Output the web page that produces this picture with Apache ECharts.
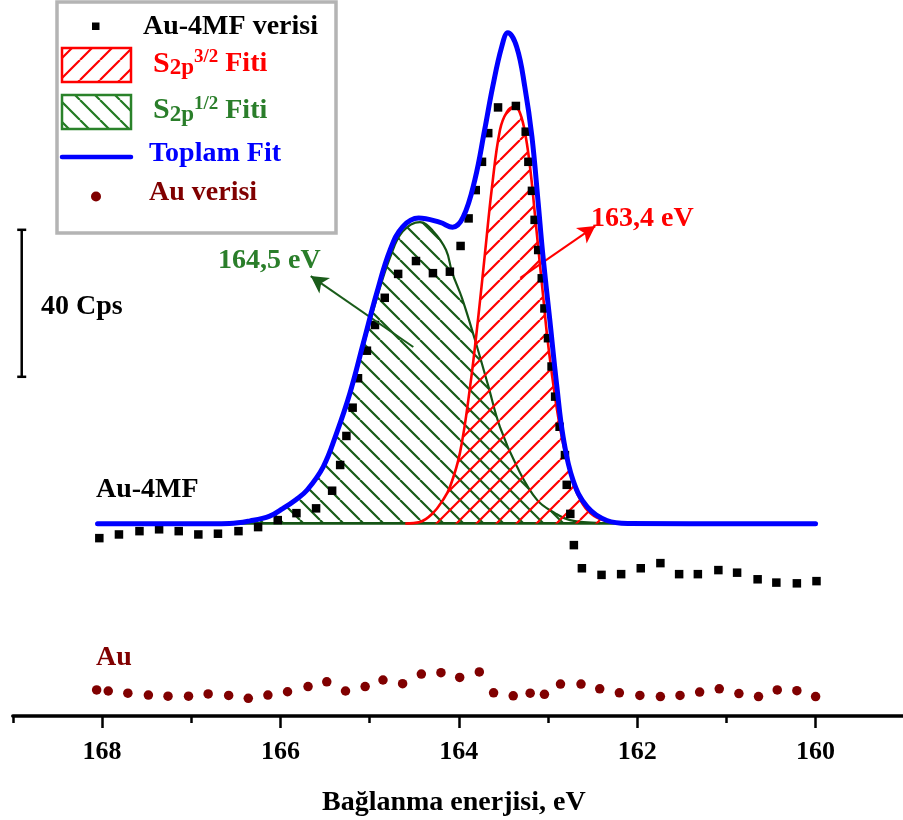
<!DOCTYPE html>
<html>
<head>
<meta charset="utf-8">
<script src="https://cdn.jsdelivr.net/npm/echarts@6/dist/echarts.min.js"></script>
<style>
html,body{margin:0;padding:0;background:#fff;overflow:hidden;}
#chart{width:903px;height:820px;}
</style>
</head>
<body>
<div id="chart"></div>
<script>
// ---------- DATA ----------
const xTickValues = [160, 162, 164, 166, 168];

// Au-4MF measured data (binding energy eV, intensity cps)
const au4mfEnergy = [168.03,167.81,167.58,167.36,167.14,166.92,166.70,166.47,166.25,166.03,165.82,165.60,165.42,165.33,165.26,165.19,165.13,165.03,164.94,164.83,164.68,164.48,164.29,164.10,163.98,163.89,163.81,163.74,163.67,163.56,163.36,163.25,163.22,163.18,163.15,163.11,163.07,163.04,163.00,162.96,162.92,162.87,162.81,162.79,162.75,162.71,162.62,162.40,162.18,161.96,161.74,161.53,161.32,161.09,160.88,160.65,160.44,160.21,159.99];
const au4mfCps    = [48.4,49.4,50.3,50.8,50.3,49.4,49.6,50.3,51.4,53.3,55.2,56.5,61.3,68.3,76.2,83.9,91.9,99.4,106.4,113.8,120.3,123.8,120.5,120.9,127.9,135.4,143.1,150.8,158.6,165.6,166.0,159.0,150.8,142.9,135.0,126.8,119.1,110.9,102.8,95.1,86.9,78.7,71.0,62.9,55.0,46.5,40.2,38.4,38.6,40.2,41.6,38.6,38.6,39.7,39.0,37.2,36.3,36.1,36.7];

// Au reference data
const auEnergy = [168.06,167.93,167.71,167.48,167.26,167.03,166.81,166.58,166.36,166.14,165.92,165.69,165.48,165.27,165.05,164.85,164.63,164.42,164.20,163.99,163.77,163.61,163.39,163.20,163.04,162.86,162.63,162.42,162.20,161.97,161.74,161.52,161.30,161.08,160.86,160.64,160.43,160.21,160.00];
const auCps    = [7.1,6.8,6.2,5.7,5.4,5.4,6.0,5.6,4.8,5.7,6.6,8.0,9.3,6.8,8.0,9.8,8.8,11.4,11.8,10.5,12.0,6.3,5.5,6.2,5.9,8.7,8.7,7.4,6.3,5.6,5.3,5.6,6.5,7.4,6.1,5.3,7.1,6.9,5.3];

// Total fit (Toplam Fit)
const totalFitEnergy = [168.05,167.0,166.57,166.34,166.12,165.97,165.83,165.70,165.52,165.37,165.22,165.07,164.92,164.77,164.63,164.45,164.21,164.07,163.95,163.82,163.71,163.62,163.52,163.45,163.35,163.26,163.18,163.11,163.06,162.98,162.90,162.83,162.72,162.56,162.34,162.10,160.00];
const totalFitCps    = [52.3,52.3,52.4,53.1,54.4,56.5,58.8,61.5,67.8,77.0,87.9,101.5,115.1,126.8,133.1,135.5,134.3,133.0,135.8,145.9,159.5,171.2,182.0,185.9,182.0,171.2,157.6,139.6,126.0,107.8,89.5,75.9,64.2,56.9,53.2,52.4,52.3];

// S2p 3/2 fit component
const s2p32Energy = [164.60,164.435,164.29,164.177,164.099,163.987,163.874,163.785,163.706,163.628,163.538,163.46,163.381,163.314,163.247,163.191,163.146,163.101,163.056,163.011,162.955,162.899,162.832,162.753,162.664,162.552,162.417,162.249];
const s2p32Cps    = [52.4,52.8,55.2,58.8,62.3,71.6,89.5,107.8,126.0,143.9,159.5,164.4,165.7,164.1,157.3,147.2,136.3,125.4,114.6,103.7,92.8,83.3,74.3,66.4,60.1,55.8,53.6,52.8];

// S2p 1/2 fit component
const s2p12Energy = [166.70,166.57,166.34,166.12,165.97,165.83,165.70,165.52,165.37,165.22,165.07,164.92,164.77,164.63,164.435,164.29,164.143,164.076,163.964,163.818,163.673,163.538,163.347,163.123,162.922,162.753,162.417];
const s2p12Cps    = [52.4,52.4,53.0,54.3,56.4,58.6,61.3,67.6,76.6,87.3,100.6,113.6,124.8,131.8,134.4,132.0,126.8,120.8,113.7,102.3,90.1,78.6,67.8,58.8,55.2,53.3,52.5];

// fit baseline
const fitBaselineEnergy = [166.60, 162.25];
const fitBaselineCps = [52.4, 52.4];

// scale bar (40 Cps)
const scaleBarEnergy = [168.9, 168.9];
const scaleBarCps = [92.3, 132.3];

// annotation arrows [from, to]
const arrow164 = [[164.51, 100.4], [165.66, 119.7]];
const arrow163 = [[163.31, 119.2], [162.47, 133.3]];

const zip = (a, b) => a.map((v, i) => [v, b[i]]);

// ---------- STYLE HELPERS ----------
const FONT = '"Liberation Serif","Times New Roman",serif';
function hatch(color, dir, lw) {
  const s = 20;
  const c = document.createElement('canvas');
  c.width = s; c.height = s;
  const g = c.getContext('2d');
  g.strokeStyle = color; g.lineWidth = lw; g.lineCap = 'butt';
  g.beginPath();
  for (let k = -1; k <= 1; k++) {
    if (dir > 0) { g.moveTo(k * s, s); g.lineTo(k * s + s, 0); }
    else { g.moveTo(k * s, 0); g.lineTo(k * s + s, s); }
  }
  g.stroke();
  return c;
}
const redHatch = hatch('#ff0000', 1, 2.2);
const greenHatch = hatch('#175c17', -1, 2.2);
const greenHatchLegend = hatch('#237a23', -1, 2.2);

const GREEN_LINE = '#155415';
const GREEN_TEXT = '#2a7e2a';
const MAROON = '#800000';

const chart = echarts.init(document.getElementById('chart'), null, {renderer: 'canvas'});

const option = {
  animation: false,
  backgroundColor: '#fff',
  grid: {left: 12.8, width: 892, top: 17.75, bottom: 104, containLabel: false, outerBoundsMode: 'none'},
  xAxis: [
    {
      type: 'value', min: 159, max: 169, interval: 1, inverse: true, position: 'bottom',
      axisLine: {show: true, lineStyle: {color: '#000', width: 3.5}},
      axisTick: {show: true, length: 7, lineStyle: {color: '#000', width: 2.5}},
      axisLabel: {show: false},
      splitLine: {show: false},
      name: 'Bağlanma enerjisi, eV', nameLocation: 'middle', nameGap: 73,
      nameTextStyle: {color: '#000', fontFamily: FONT, fontWeight: 'bold', fontSize: 28, padding: [0, 10, 0, 0]}
    },
    {
      type: 'value', min: 159, max: 169, inverse: true, position: 'bottom',
      axisLine: {show: false},
      axisTick: {show: true, customValues: xTickValues, length: 12, lineStyle: {color: '#000', width: 2.5}},
      axisLabel: {show: true, customValues: xTickValues, margin: 23, color: '#000',
        fontFamily: FONT, fontWeight: 'bold', fontSize: 26},
      splitLine: {show: false}
    }
  ],
  yAxis: {type: 'value', min: 0, max: 190, show: false},
  series: [
    {
      name: 'S2p1/2 Fiti', type: 'line', xAxisIndex: 0, data: zip(s2p12Energy, s2p12Cps),
      smooth: 0.4, showSymbol: false, symbol: 'none', z: 2,
      lineStyle: {color: GREEN_LINE, width: 2.2},
      areaStyle: {color: {image: greenHatch, repeat: 'repeat'}, origin: 52.4, opacity: 1}
    },
    {
      name: 'baseline', type: 'line', xAxisIndex: 0, data: zip(fitBaselineEnergy, fitBaselineCps),
      showSymbol: false, symbol: 'none', z: 2,
      lineStyle: {color: GREEN_LINE, width: 2.8}
    },
    {
      name: 'S2p3/2 Fiti', type: 'line', xAxisIndex: 0, data: zip(s2p32Energy, s2p32Cps),
      smooth: 0.4, showSymbol: false, symbol: 'none', z: 3,
      lineStyle: {color: '#ff0000', width: 2.6},
      areaStyle: {color: {image: redHatch, repeat: 'repeat'}, origin: 52.4, opacity: 1}
    },
    {
      name: 'Au-4MF verisi', type: 'scatter', xAxisIndex: 0, data: zip(au4mfEnergy, au4mfCps),
      symbol: 'rect', symbolSize: 8.5, z: 4, itemStyle: {color: '#000', opacity: 1}
    },
    {
      name: 'Toplam Fit', type: 'line', xAxisIndex: 0, data: zip(totalFitEnergy, totalFitCps),
      smooth: 0.4, showSymbol: false, symbol: 'none', z: 5,
      lineStyle: {color: '#0000ff', width: 5, cap: 'round', join: 'round'}
    },
    {
      name: 'Au verisi', type: 'scatter', xAxisIndex: 0, data: zip(auEnergy, auCps),
      symbol: 'circle', symbolSize: 9.5, z: 4, itemStyle: {color: MAROON, opacity: 1}
    },
    {
      name: 'scale', type: 'line', xAxisIndex: 0, data: zip(scaleBarEnergy, scaleBarCps),
      showSymbol: true, symbol: 'rect', symbolSize: [9, 2.5], z: 4,
      itemStyle: {color: '#000', opacity: 1}, lineStyle: {color: '#000', width: 2.5}
    },
    {
      name: 'arrows', type: 'line', xAxisIndex: 0, data: [], z: 6,
      markLine: {
        silent: true, animation: false, symbol: ['none', 'arrow'], symbolSize: [14, 17],
        label: {show: false},
        data: [
          [{coord: arrow164[0], lineStyle: {color: '#1a5c1a', width: 2, type: 'solid'}, itemStyle: {color: '#1a5c1a'}},
           {coord: arrow164[1]}],
          [{coord: arrow163[0], lineStyle: {color: '#ff0000', width: 2, type: 'solid'}, itemStyle: {color: '#ff0000'}},
           {coord: arrow163[1]}]
        ]
      }
    }
  ],
  graphic: [
    {
      type: 'group', z: 100, children: [
        {type: 'rect', shape: {x: 57, y: 2, width: 279, height: 231},
         style: {fill: '#fff', stroke: '#b4b4b4', lineWidth: 3.5}},
        {type: 'rect', shape: {x: 92, y: 22.5, width: 7.5, height: 7.5}, style: {fill: '#000'}},
        {type: 'text', style: {x: 143, y: 27, text: 'Au-4MF verisi', fill: '#000',
          font: 'bold 28px ' + FONT, verticalAlign: 'middle'}},
        {type: 'rect', shape: {x: 62, y: 48, width: 69, height: 34},
         style: {fill: {image: redHatch, repeat: 'repeat'}, stroke: '#ff0000', lineWidth: 2.5}},
        {type: 'text', style: {x: 153, y: 64, verticalAlign: 'middle',
          text: '{a|S}{b|2p}{c|3/2}{d| Fiti}',
          rich: {
            a: {fill: '#ff0000', fontFamily: FONT, fontWeight: 'bold', fontSize: 30, lineHeight: 32, verticalAlign: 'middle'},
            b: {fill: '#ff0000', fontFamily: FONT, fontWeight: 'bold', fontSize: 23, lineHeight: 15, verticalAlign: 'bottom'},
            c: {fill: '#ff0000', fontFamily: FONT, fontWeight: 'bold', fontSize: 19, lineHeight: 25, verticalAlign: 'top'},
            d: {fill: '#ff0000', fontFamily: FONT, fontWeight: 'bold', fontSize: 28, lineHeight: 32, verticalAlign: 'middle'}
          }}},
        {type: 'rect', shape: {x: 62, y: 95, width: 69, height: 34},
         style: {fill: {image: greenHatchLegend, repeat: 'repeat'}, stroke: '#2a822a', lineWidth: 2.5}},
        {type: 'text', style: {x: 153, y: 110.5, verticalAlign: 'middle',
          text: '{a|S}{b|2p}{c|1/2}{d| Fiti}',
          rich: {
            a: {fill: GREEN_TEXT, fontFamily: FONT, fontWeight: 'bold', fontSize: 30, lineHeight: 32, verticalAlign: 'middle'},
            b: {fill: GREEN_TEXT, fontFamily: FONT, fontWeight: 'bold', fontSize: 23, lineHeight: 15, verticalAlign: 'bottom'},
            c: {fill: GREEN_TEXT, fontFamily: FONT, fontWeight: 'bold', fontSize: 19, lineHeight: 25, verticalAlign: 'top'},
            d: {fill: GREEN_TEXT, fontFamily: FONT, fontWeight: 'bold', fontSize: 28, lineHeight: 32, verticalAlign: 'middle'}
          }}},
        {type: 'line', shape: {x1: 62, y1: 157, x2: 131, y2: 157},
         style: {stroke: '#0000ff', lineWidth: 4.5, lineCap: 'round'}},
        {type: 'text', style: {x: 149, y: 153.5, text: 'Toplam Fit', fill: '#0000ff',
          font: 'bold 28px ' + FONT, verticalAlign: 'middle'}},
        {type: 'circle', shape: {cx: 96, cy: 196.5, r: 5}, style: {fill: MAROON}},
        {type: 'text', style: {x: 149, y: 193, text: 'Au verisi', fill: MAROON,
          font: 'bold 28px ' + FONT, verticalAlign: 'middle'}}
      ]
    },
    {type: 'text', z: 100, style: {x: 41, y: 307, text: '40 Cps', fill: '#000',
      font: 'bold 28px ' + FONT, verticalAlign: 'middle'}},
    {type: 'text', z: 100, style: {x: 96, y: 490, text: 'Au-4MF', fill: '#000',
      font: 'bold 28px ' + FONT, verticalAlign: 'middle'}},
    {type: 'text', z: 100, style: {x: 96, y: 658, text: 'Au', fill: MAROON,
      font: 'bold 28px ' + FONT, verticalAlign: 'middle'}},
    {type: 'text', z: 100, style: {x: 218, y: 261, text: '164,5 eV', fill: GREEN_TEXT,
      font: 'bold 28px ' + FONT, verticalAlign: 'middle'}},
    {type: 'text', z: 100, style: {x: 591, y: 219, text: '163,4 eV', fill: '#ff0000',
      font: 'bold 28px ' + FONT, verticalAlign: 'middle'}}
  ]
};
chart.setOption(option);
</script>
</body>
</html>
